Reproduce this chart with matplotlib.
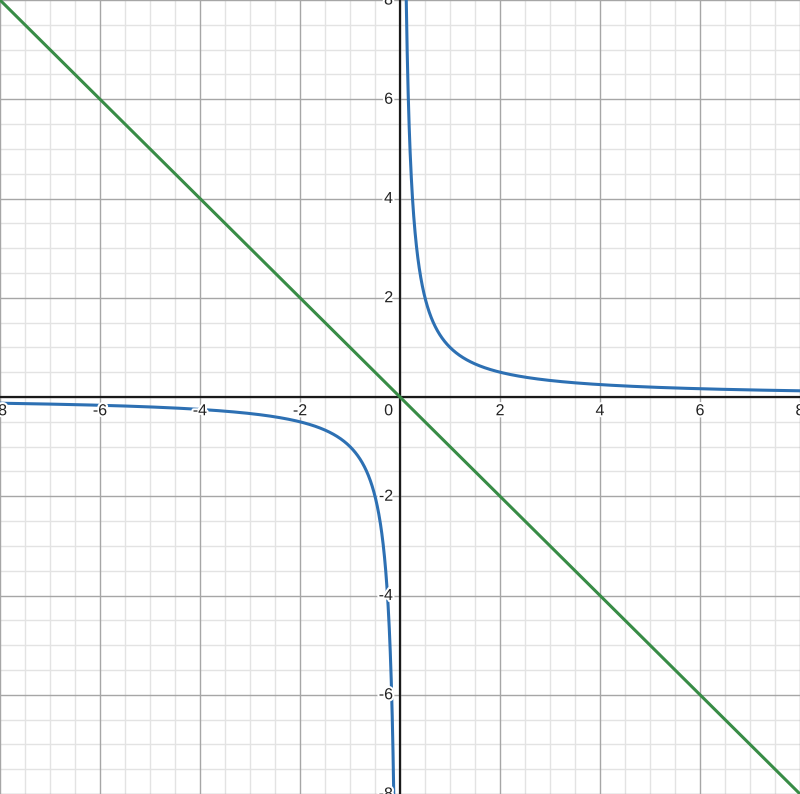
import numpy as np
import matplotlib
matplotlib.use("Agg")
import matplotlib.pyplot as plt
import matplotlib.patheffects as pe

# Data / labels
x_ticks = [-8, -6, -4, -2, 2, 4, 6, 8]
y_ticks = [-8, -6, -4, -2, 2, 4, 6, 8]
x_min, x_max = -8, 8
y_min, y_max = -8, 8

fig = plt.figure(figsize=(8.0, 7.94), dpi=100)
ax = fig.add_axes([0, 0, 1, 1])
ax.set_xlim(x_min, x_max)
ax.set_ylim(y_min, y_max)
ax.set_axis_off()

# grid
for v in np.arange(-8, 8.01, 0.5):
    if abs(v % 2) < 1e-9:
        continue
    ax.axvline(v, color="#e3e3e3", lw=1.0, zorder=0)
    ax.axhline(v, color="#e3e3e3", lw=1.0, zorder=0)
for v in np.arange(-8, 8.01, 2):
    ax.axvline(v, color="#a6a6a6", lw=1.0, zorder=1)
    ax.axhline(v, color="#a6a6a6", lw=1.0, zorder=1)
ax.axhline(0, color="#1a1a1a", lw=1.6, zorder=2)
ax.axvline(0, color="#1a1a1a", lw=1.6, zorder=2)

# curves
xn = np.linspace(-8, -0.12, 2000)
xp = np.linspace(0.12, 8, 2000)
ax.plot(xn, 1 / xn, color="#2d70b3", lw=2.2, zorder=4, solid_capstyle="round")
ax.plot(xp, 1 / xp, color="#2d70b3", lw=2.2, zorder=4, solid_capstyle="round")
xl = np.linspace(-8, 8, 200)
ax.plot(xl, -xl, color="#388c46", lw=2.2, zorder=3)

halo = [pe.withStroke(linewidth=3, foreground="white")]
fs = 11.5
fam = "Liberation Sans"
for t in x_ticks:
    ax.annotate(str(t), (t, 0), xytext=(0, -4.5), textcoords="offset points",
                ha="center", va="top", fontsize=fs, family=fam, color="#222222",
                path_effects=halo, zorder=5, annotation_clip=False)
for t in y_ticks:
    ax.annotate(str(t), (0, t), xytext=(-5, 0), textcoords="offset points",
                ha="right", va="center", fontsize=fs, family=fam, color="#222222",
                path_effects=halo, zorder=5, annotation_clip=False)
ax.annotate("0", (0, 0), xytext=(-5, -4.5), textcoords="offset points",
            ha="right", va="top", fontsize=fs, family=fam, color="#222222",
            path_effects=halo, zorder=5)

fig.savefig("out.png", dpi=100)
